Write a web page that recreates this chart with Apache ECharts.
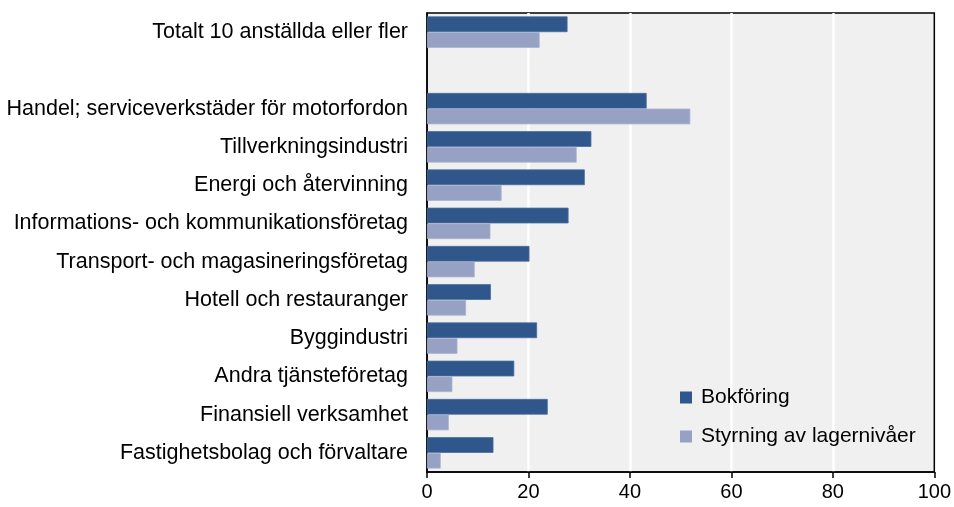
<!DOCTYPE html>
<html><head><meta charset="utf-8">
<script src="https://cdn.jsdelivr.net/npm/echarts@6/dist/echarts.min.js"></script>
<style>html,body{margin:0;padding:0;background:#fff}#c{width:954px;height:507px}</style>
</head><body><div id="c"></div>
<script>
const categories = [
  "Totalt 10 anställda eller fler",
  "",
  "Handel; serviceverkstäder för motorfordon",
  "Tillverkningsindustri",
  "Energi och återvinning",
  "Informations- och kommunikationsföretag",
  "Transport- och magasineringsföretag",
  "Hotell och restauranger",
  "Byggindustri",
  "Andra tjänsteföretag",
  "Finansiell verksamhet",
  "Fastighetsbolag och förvaltare"
];
const seriesNames = ["Bokföring", "Styrning av lagernivåer"];
const bokforing = [27.7, null, 43.3, 32.4, 31.1, 27.9, 20.2, 12.6, 21.7, 17.2, 23.8, 13.1];
const styrning  = [22.2, null, 51.9, 29.5, 14.7, 12.5, 9.4, 7.7, 6.0, 5.0, 4.3, 2.7];
const xTicks = [0, 20, 40, 60, 80, 100];

const font = "'Liberation Sans', Arial, sans-serif";
const chart = echarts.init(document.getElementById('c'));
chart.setOption({
  animation: false,
  textStyle: { fontFamily: font },
  grid: { left: 427, right: 18, top: 13, bottom: 35, show: true,
          backgroundColor: '#f0f0f0', borderColor: '#000', borderWidth: 1.5 },
  legend: {
    orient: 'vertical', left: 675, top: 382,
    itemWidth: 12, itemHeight: 12, itemGap: 18, icon: 'rect',
    itemStyle: { borderWidth: 0 },
    textStyle: { fontSize: 21, color: '#000', fontFamily: font, padding: [0, 0, 0, 4] },
    data: seriesNames
  },
  xAxis: {
    type: 'value', min: xTicks[0], max: xTicks[xTicks.length - 1], interval: 20,
    axisLine: { show: true, lineStyle: { color: '#000', width: 1.5 } },
    axisTick: { show: true, length: 6, lineStyle: { color: '#000', width: 1.5 } },
    axisLabel: { fontSize: 20, color: '#000', margin: 10, fontFamily: font },
    splitLine: { show: true, showMinLine: false, showMaxLine: false, lineStyle: { color: '#fff', width: 2.5 } }
  },
  yAxis: {
    type: 'category', data: categories, inverse: true,
    axisLine: { show: true, lineStyle: { color: '#000', width: 1.5 } },
    axisTick: { show: false },
    axisLabel: { fontSize: 21.5, color: '#000', margin: 19, fontFamily: font },
    splitLine: { show: false }
  },
  series: [
    { name: seriesNames[0], type: 'bar', data: bokforing, barGap: '0%', barCategoryGap: '18%',
      itemStyle: { color: '#30578c', borderColor: '#4a6c9c', borderWidth: 0.8 } },
    { name: seriesNames[1], type: 'bar', data: styrning, barGap: '0%', barCategoryGap: '18%',
      itemStyle: { color: '#96a1c4', borderColor: '#aab3d0', borderWidth: 0.8 } }
  ]
});
</script></body></html>
